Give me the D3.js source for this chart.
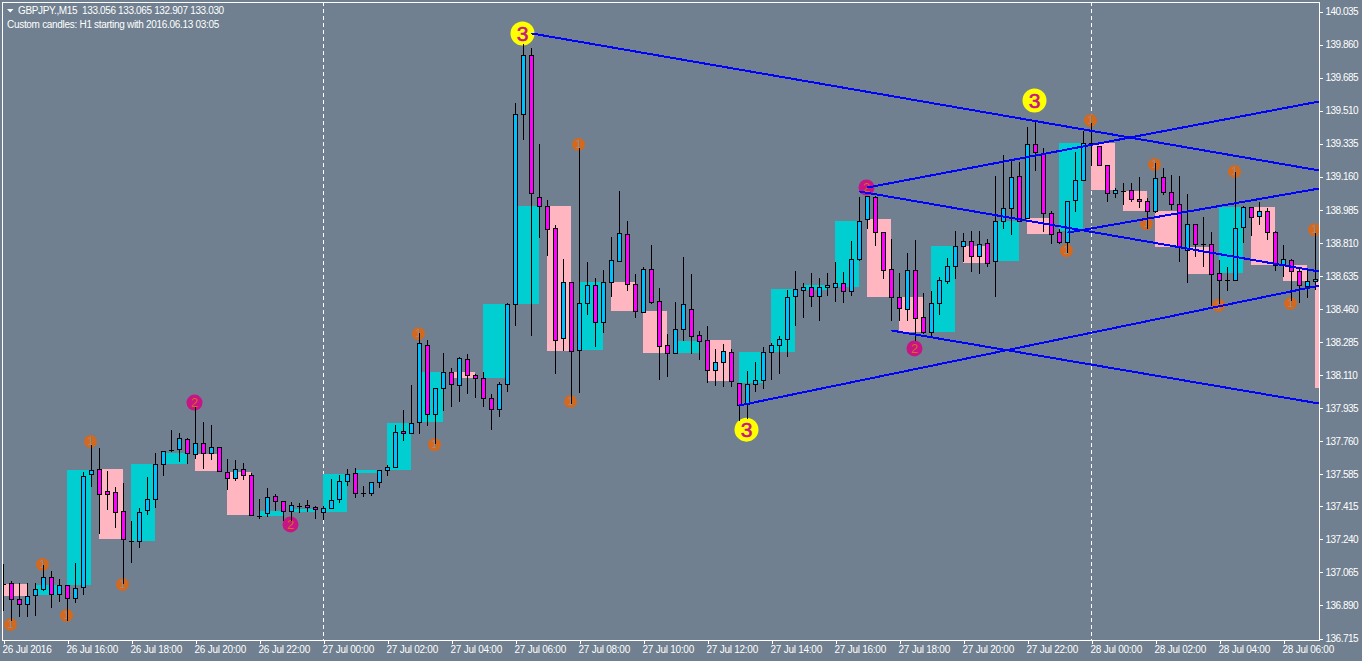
<!DOCTYPE html>
<html><head><meta charset="utf-8">
<script src="https://cdnjs.cloudflare.com/ajax/libs/d3/7.8.5/d3.min.js"></script>
<style>html,body{margin:0;padding:0;background:#708090;overflow:hidden}svg{display:block}
text{font-family:"Liberation Sans",Arial,sans-serif}</style></head><body>
<svg id="c" width="1362" height="661"></svg>
<script>
const symbolLine = "GBPJPY.,M15  133.056 133.065 132.907 133.030";
const noteLine = "Custom candles: H1 starting with 2016.06.13 03:05";
const priceTicks = [140.035,139.860,139.685,139.510,139.335,139.160,138.985,138.810,138.635,138.460,138.285,138.110,137.935,137.760,137.585,137.415,137.240,137.065,136.890,136.715];
const timeLabels = ["26 Jul 2016","26 Jul 16:00","26 Jul 18:00","26 Jul 20:00","26 Jul 22:00","27 Jul 00:00","27 Jul 02:00","27 Jul 04:00","27 Jul 06:00","27 Jul 08:00","27 Jul 10:00","27 Jul 12:00","27 Jul 14:00","27 Jul 16:00","27 Jul 18:00","27 Jul 20:00","27 Jul 22:00","28 Jul 00:00","28 Jul 02:00","28 Jul 04:00","28 Jul 06:00"];
const dayBreaks = [40,136];

const opens = [137.001,137.006,136.921,136.895,136.943,136.974,137.038,136.948,136.996,136.927,136.985,137.583,137.609,137.494,137.488,137.388,137.229,137.229,137.393,137.451,137.636,137.710,137.715,137.768,137.689,137.747,137.694,137.726,137.593,137.562,137.609,137.578,137.361,137.377,137.467,137.441,137.388,137.414,137.420,137.409,137.382,137.404,137.451,137.546,137.588,137.483,137.483,137.541,137.604,137.620,137.811,137.800,137.858,138.266,137.901,138.039,138.123,138.055,138.192,138.108,138.092,137.986,137.927,138.060,138.484,139.490,139.802,139.050,139.002,138.886,138.304,138.599,138.240,138.489,138.584,138.388,138.599,138.711,138.854,138.589,138.441,138.668,138.500,138.266,138.224,138.351,138.457,138.320,138.293,138.134,138.176,138.229,138.065,137.954,138.060,138.081,138.229,138.266,138.298,138.526,138.558,138.573,138.526,138.573,138.573,138.594,138.552,138.721,138.933,139.050,138.864,138.668,138.521,138.457,138.663,138.415,138.335,138.489,138.605,138.684,138.790,138.817,138.737,138.806,138.711,138.923,138.992,139.161,138.939,139.331,139.283,138.965,138.864,138.811,139.034,139.140,139.336,139.320,139.220,139.071,139.082,139.087,139.039,139.029,138.976,139.156,139.076,139.013,138.769,138.907,138.801,138.801,138.647,138.610,138.610,138.891,138.997,138.949,138.976,138.864,138.690,138.716,138.658,138.579,138.605];
const highs = [137.107,137.017,137.006,137.006,137.006,137.102,137.070,137.027,136.996,137.112,137.593,137.736,137.721,137.599,137.514,137.535,137.335,137.404,137.567,137.694,137.705,137.816,137.800,137.773,137.938,137.858,137.843,137.726,137.662,137.657,137.641,137.588,137.451,137.509,137.478,137.441,137.435,137.430,137.446,137.414,137.414,137.556,137.578,137.609,137.615,137.520,137.541,137.604,137.631,137.843,137.922,138.055,138.329,138.293,138.039,138.224,138.145,138.203,138.219,138.113,138.123,138.007,138.070,138.489,139.548,139.860,139.839,139.331,139.034,138.902,138.721,138.599,139.310,138.705,138.621,138.663,138.838,139.082,138.923,138.642,138.679,138.795,138.568,138.325,138.494,138.732,138.642,138.341,138.367,138.245,138.272,138.245,138.065,138.129,138.176,138.256,138.277,138.314,138.558,138.658,138.594,138.647,138.621,138.647,138.705,138.653,138.817,139.050,139.055,139.055,138.864,138.827,138.647,138.753,138.822,138.542,138.552,138.626,138.726,138.870,138.859,138.870,138.870,138.827,139.161,139.273,139.241,139.235,139.421,139.447,139.310,138.976,138.880,139.029,139.288,139.400,139.442,139.320,139.220,139.098,139.124,139.124,139.156,139.045,139.230,139.203,139.167,139.161,139.066,138.907,138.944,138.864,138.716,138.679,139.182,139.002,138.997,139.023,138.992,138.870,138.796,138.721,138.674,138.663,138.859];
const lows = [136.863,136.810,136.831,136.831,136.837,136.969,136.879,136.911,136.810,136.905,136.948,137.520,137.271,137.398,137.303,137.006,137.117,137.197,137.372,137.409,137.578,137.705,137.652,137.641,137.668,137.615,137.662,137.599,137.504,137.551,137.556,137.367,137.351,137.361,137.393,137.340,137.340,137.382,137.388,137.351,137.345,137.404,137.435,137.525,137.462,137.467,137.473,137.514,137.578,137.620,137.763,137.800,137.800,137.843,137.747,137.922,137.943,137.970,138.012,137.991,137.943,137.821,137.890,138.023,138.373,139.357,138.320,138.838,138.743,138.118,138.240,137.959,138.017,138.431,138.261,138.335,138.526,138.711,138.558,138.415,138.441,138.489,138.086,138.102,138.224,138.293,138.224,138.192,138.070,138.055,138.049,138.049,137.869,137.880,138.023,138.039,138.086,138.118,138.208,138.373,138.415,138.473,138.399,138.531,138.500,138.494,138.531,138.716,138.886,138.796,138.621,138.399,138.399,138.399,138.293,138.330,138.309,138.431,138.594,138.621,138.711,138.658,138.647,138.684,138.526,138.886,138.854,138.923,138.939,139.193,138.870,138.806,138.806,138.758,138.976,139.140,139.220,139.220,139.029,139.050,139.013,139.029,138.997,138.886,138.970,139.066,138.986,138.711,138.599,138.737,138.684,138.479,138.489,138.558,138.610,138.811,138.849,138.907,138.827,138.663,138.632,138.505,138.494,138.521,138.563];
const closes = [137.001,136.921,136.895,136.937,136.974,137.038,136.948,136.996,136.927,136.980,137.572,137.604,137.478,137.478,137.382,137.239,137.229,137.382,137.451,137.636,137.705,137.710,137.773,137.694,137.747,137.694,137.726,137.599,137.562,137.609,137.578,137.367,137.361,137.462,137.441,137.388,137.420,137.414,137.409,137.398,137.404,137.446,137.546,137.583,137.483,137.483,137.541,137.604,137.620,137.805,137.800,137.853,138.277,137.901,138.039,138.123,138.060,138.198,138.108,138.092,137.986,137.927,138.060,138.484,139.490,139.802,139.071,139.002,138.880,138.293,138.599,138.235,138.489,138.584,138.388,138.599,138.716,138.859,138.589,138.447,138.668,138.494,138.261,138.224,138.351,138.484,138.314,138.288,138.134,138.176,138.235,138.076,137.949,138.060,138.081,138.229,138.266,138.298,138.521,138.563,138.573,138.526,138.573,138.584,138.594,138.552,138.721,138.923,139.055,138.864,138.663,138.521,138.463,138.663,138.410,138.335,138.489,138.610,138.684,138.790,138.817,138.737,138.801,138.700,138.923,138.992,139.156,138.923,139.331,139.288,138.965,138.854,138.811,139.029,139.140,139.336,139.336,139.220,139.071,139.087,139.082,139.039,139.029,138.976,139.151,139.076,139.013,138.785,138.907,138.801,138.801,138.642,138.610,138.610,138.886,138.997,138.944,138.976,138.864,138.690,138.721,138.658,138.584,138.605,138.616];

const hourOpens = [137.001,136.943,136.996,137.609,137.229,137.636,137.689,137.593,137.361,137.382,137.382,137.588,137.604,137.858,138.123,138.092,138.484,139.002,138.240,138.599,138.447,138.224,138.293,138.065,138.229,138.558,138.573,138.933,138.521,138.335,138.790,138.711,138.939,138.870,139.336,139.082,138.976,138.785,138.647,138.997,138.690,138.605];
const hourCloses = [136.937,136.996,137.604,137.239,137.636,137.694,137.599,137.367,137.388,137.398,137.583,137.604,137.853,138.123,138.092,138.484,139.002,138.235,138.599,138.447,138.224,138.288,138.076,138.229,138.563,138.584,138.923,138.521,138.335,138.790,138.700,138.923,138.854,139.336,139.087,138.976,138.785,138.642,138.997,138.690,138.605,138.039];

const markerBars = [1,5,8,11,15,24,36,52,54,71,72,65,93,129,108,114,133,136,143,144,152,154,161,164];
const markerPrices = [136.789,137.107,136.837,137.758,137.001,137.964,137.319,138.329,137.742,137.970,139.331,139.919,137.821,139.564,139.103,138.251,138.769,139.458,138.912,139.225,138.479,139.188,138.489,138.880];
const markerLevels = [1,1,1,1,1,2,2,1,1,1,1,3,3,3,2,2,1,1,1,1,1,1,1,1];

const trendStartBars = [66,107,111,92,108,133];
const trendStartPrices = [139.919,139.082,138.346,137.949,139.103,138.864];
const trendEndBar = 164.5;
const trendEndPrices = [139.193,138.658,137.959,138.584,139.559,139.098];

const W=1362,H=661,L=2,R=1319,T=2,B=640;
const svg=d3.select("#c");
const x=d3.scaleLinear().domain([0,164]).range([3,1315]);
const y=d3.scaleLinear().domain([136.715,140.035]).range([638,11]);
const cx=i=>x(i)+0.5, ry=v=>Math.round(y(v));
const COL={bg:"#708090",txt:"#ffffff",bull:"#00BFFF",bear:"#FF00FF",hUp:"#00CED1",hDn:"#FFB6C1",trend:"#0000FF"};
const lv={1:{r:6.5,f:"#D2691E",t:"#8a8f98",s:10,w:"normal"},2:{r:8,f:"#C71585",t:"#D2691E",s:13,w:"normal"},3:{r:12,f:"#FFFF00",t:"#C71585",s:21,w:"normal"}};

svg.append("rect").attr("width",W).attr("height",H).attr("fill",COL.bg);
svg.append("defs").append("clipPath").attr("id","plot").append("rect").attr("x",L).attr("y",T).attr("width",R-L).attr("height",B-T);
const plot=svg.append("g").attr("clip-path","url(#plot)").attr("shape-rendering","crispEdges");

plot.selectAll("line.day").data(dayBreaks).join("line").attr("class","day")
 .attr("x1",d=>cx(d)).attr("x2",d=>cx(d)).attr("y1",T).attr("y2",B)
 .attr("stroke","#fff").attr("stroke-dasharray","4,3");

plot.selectAll("rect.hour").data(hourOpens).join("rect").attr("class","hour")
 .attr("x",(d,k)=>x(k*4)).attr("width",24)
 .attr("y",(d,k)=>Math.min(ry(d),ry(hourCloses[k])))
 .attr("height",(d,k)=>Math.abs(ry(d)-ry(hourCloses[k])))
 .attr("fill",(d,k)=>hourCloses[k]>=d?COL.hUp:COL.hDn);

const mk=svg.append("g").attr("clip-path","url(#plot)");
const mg=mk.selectAll("g").data(markerBars).join("g").attr("transform",(d,k)=>`translate(${cx(d)-1},${y(markerPrices[k])+0.5})`);
mg.append("circle").attr("r",(d,k)=>lv[markerLevels[k]].r).attr("fill",(d,k)=>lv[markerLevels[k]].f);
mg.append("text").attr("text-anchor","middle").attr("dy","0.36em").attr("font-weight",(d,k)=>lv[markerLevels[k]].w)
 .attr("stroke",(d,k)=>markerLevels[k]===3?"#C71585":"none").attr("stroke-width",0.6)
 .attr("font-size",(d,k)=>lv[markerLevels[k]].s).attr("fill",(d,k)=>lv[markerLevels[k]].t).text((d,k)=>markerLevels[k]);

const cd=svg.append("g").attr("clip-path","url(#plot)").attr("shape-rendering","crispEdges");
const idx=d3.range(opens.length);
cd.selectAll("line.wick").data(idx).join("line").attr("class","wick")
 .attr("x1",cx).attr("x2",cx).attr("y1",i=>ry(highs[i])).attr("y2",i=>ry(lows[i])+1).attr("stroke","#000");
const tops=i=>Math.min(ry(opens[i]),ry(closes[i])), bots=i=>Math.max(ry(opens[i]),ry(closes[i]));
cd.selectAll("rect.body").data(idx.filter(i=>opens[i]!==closes[i])).join("rect").attr("class","body")
 .attr("x",i=>cx(i)-2).attr("width",4).attr("y",i=>tops(i)+0.5).attr("height",i=>Math.max(1,bots(i)-tops(i)))
 .attr("fill",i=>closes[i]>opens[i]?COL.bull:COL.bear).attr("stroke","#000");
cd.selectAll("line.doji").data(idx.filter(i=>opens[i]===closes[i])).join("line").attr("class","doji")
 .attr("x1",i=>cx(i)-2.5).attr("x2",i=>cx(i)+2.5).attr("y1",i=>ry(opens[i])+0.5).attr("y2",i=>ry(opens[i])+0.5).attr("stroke","#000");

const lines=svg.append("g").attr("clip-path","url(#plot)").attr("shape-rendering","crispEdges");
lines.selectAll("line").data(trendStartBars).join("line")
 .attr("x1",d=>cx(d)).attr("y1",(d,k)=>y(trendStartPrices[k])+0.5)
 .attr("x2",cx(trendEndBar)).attr("y2",(d,k)=>y(trendEndPrices[k])+0.5)
 .attr("stroke",COL.trend).attr("stroke-width",2);

svg.append("rect").attr("x",L+0.5).attr("y",T+0.5).attr("width",R-L).attr("height",B-T)
 .attr("fill","none").attr("stroke","#fff").attr("shape-rendering","crispEdges");

const ya=svg.append("g").attr("transform",`translate(${R+0.5},0.5)`)
 .call(d3.axisRight(y).tickValues(priceTicks).tickFormat(d3.format(".3f")).tickSize(3).tickPadding(3));
ya.select(".domain").remove();
ya.selectAll("line").attr("stroke","#fff").attr("shape-rendering","crispEdges");
ya.selectAll("text").attr("font-size",10).attr("fill",COL.txt).attr("font-family","Liberation Sans").style("letter-spacing","-0.5px");

const xa=svg.append("g").attr("transform",`translate(0.5,${B+0.5})`)
 .call(d3.axisBottom(x).tickValues(timeLabels.map((d,k)=>k*8)).tickFormat((d,k)=>timeLabels[k]).tickSize(3).tickPadding(2));
xa.select(".domain").remove();
xa.selectAll("line").attr("stroke","#fff").attr("shape-rendering","crispEdges");
xa.selectAll("text").attr("font-size",10).attr("fill",COL.txt).attr("font-family","Liberation Sans")
 .attr("text-anchor","start").attr("dx",-1.5).style("letter-spacing","-0.25px");

svg.append("path").attr("d","M7,9L13.5,9L10.2,12.5Z").attr("fill","#fff");
svg.append("text").attr("x",18).attr("y",13.5).attr("font-size",10).attr("fill",COL.txt).style("white-space","pre").style("letter-spacing","-0.36px").text(symbolLine);
svg.append("text").attr("x",7).attr("y",27.5).attr("font-size",10).attr("fill",COL.txt).style("letter-spacing","-0.3px").text(noteLine);
</script></body></html>
